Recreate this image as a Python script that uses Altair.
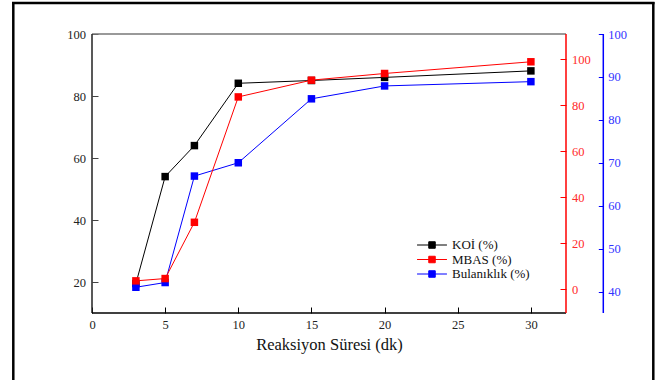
import altair as alt
import pandas as pd

# ---- data ----
t = [3, 5, 7, 10, 15, 20, 30]
koi = [19.5, 54, 64, 84.1, 85, 86, 88.1]
mbas = [3.6, 4.6, 29.1, 83.7, 91, 93.9, 99]
bulaniklik = [41.0, 42.1, 66.9, 70.0, 84.9, 87.9, 88.9]
names = ["KOİ (%)", "MBAS (%)", "Bulanıklık (%)"]
colors = ["#000000", "#ff0000", "#0000ff"]
x_ticks = [0, 5, 10, 15, 20, 25, 30]
koi_ticks = [20, 40, 60, 80, 100]
mbas_ticks = [0, 20, 40, 60, 80, 100]
bul_ticks = [40, 50, 60, 70, 80, 90, 100]
x_title = "Reaksiyon Süresi (dk)"

rows = []
for name, vals in zip(names, [koi, mbas, bulaniklik]):
    for ti, v in zip(t, vals):
        rows.append({"t": ti, "v": v, "s": name})
df = pd.DataFrame(rows)
one = pd.DataFrame({"a": [0]})

W, H = 474, 279
PL, PT = 92, 34
SERIF = "'Liberation Serif', 'Times New Roman', Times, serif"

xaxis = alt.Axis(values=x_ticks, offset=-6, domain=False, tickSize=6, tickColor="#000",
                 tickWidth=1, labelFont=SERIF, labelFontSize=12.5, labelColor="#222",
                 labelPadding=5, labelFlush=False, title=x_title, titleFont=SERIF,
                 titleFontSize=16.5, titleFontWeight="normal", titleColor="#111",
                 titlePadding=6, grid=False)
xscale = alt.Scale(domain=[0, 32.4], nice=False, zero=False)

path = "M-2.3,0H2.3M-0.5,-0.5H0.5V0.5H-0.5Z"
legend = alt.Legend(title=None, orient="none", legendX=333, legendY=204,
                    symbolType=path, symbolSize=169, symbolStrokeWidth=1,
                    symbolOpacity=1,
                    labelFont=SERIF, labelFontSize=13, labelColor="#111",
                    labelOffset=13, rowPadding=0.5, padding=0)
cscale = alt.Scale(domain=names, range=colors)


def series(name, domain, axis):
    base = alt.Chart(df).transform_filter(alt.datum.s == name).encode(
        x=alt.X("t:Q", scale=xscale, axis=xaxis),
        y=alt.Y("v:Q", scale=alt.Scale(domain=domain, nice=False, zero=False), axis=axis),
        color=alt.Color("s:N", scale=cscale, legend=legend),
    )
    return alt.layer(base.mark_line(strokeWidth=1),
                     base.mark_square(size=56, opacity=1))


koi_axis = alt.Axis(values=koi_ticks, orient="left", offset=-6, domain=False, tickSize=6,
                    tickColor="#444", labelPadding=6.5, labelFont=SERIF, labelFontSize=12.5,
                    labelColor="#222", title=None, grid=False)
mbas_axis = alt.Axis(values=mbas_ticks, orient="right", offset=-6, domain=False, tickSize=6,
                     tickColor="#ff0000", labelPadding=5.5, labelFont=SERIF, labelFontSize=12.5,
                     labelColor="#ff2a2a", title=None, grid=False)
bul_axis = alt.Axis(values=bul_ticks, orient="right", offset=32.3, domain=False, tickSize=5,
                    tickColor="#0000ff", labelPadding=4.4, labelFont=SERIF, labelFontSize=12.5,
                    labelColor="#3333ff", title=None, grid=False)

koi_l = series(names[0], [10, 100], koi_axis)
bul_l = series(names[2], [35, 100], bul_axis)
mbas_l = series(names[1], [-10.4, 111.1], mbas_axis)


def hrule(y, x1, x2, color, w):
    return alt.Chart(one).mark_rule(color=color, strokeWidth=w).encode(
        x=alt.value(x1), x2=alt.value(x2), y=alt.value(y))


def vrule(x, y1, y2, color, w):
    return alt.Chart(one).mark_rule(color=color, strokeWidth=w).encode(
        x=alt.value(x), y=alt.value(y1), y2=alt.value(y2))


frame = [
    hrule(0, 0, W, "#777777", 1.5),
    vrule(0, 0, H, "#222222", 1.5),
    hrule(H, 0, W, "#000000", 1.5),
    vrule(W, 0, H, "#ff0000", 1.5),
    vrule(W + 37.3, 0, H, "#0000ff", 1.5),
    # outer picture border
    hrule(-31, -80, W + 88.5, "#000000", 2.5),
    vrule(-78.7, -32, H + 80, "#000000", 2.5),
    vrule(W + 87.3, -32, H + 80, "#000000", 2.5),
]

chart = alt.layer(koi_l, bul_l, mbas_l, *frame).resolve_scale(
    y="independent"
).properties(
    width=W, height=H,
    padding={"left": PL, "top": PT, "right": 660 - PL - W, "bottom": 380 - PT - H},
    autosize=alt.AutoSizeParams(type="none"),
    background="white",
).configure_view(stroke="transparent")

chart.save("out.html", embed_options={"renderer": "svg", "actions": False})
